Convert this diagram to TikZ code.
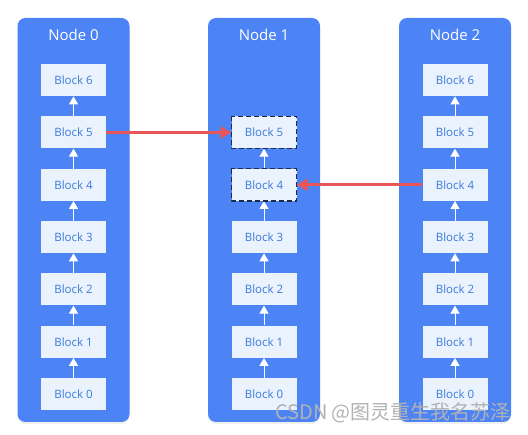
\documentclass[tikz,border=0pt]{standalone}
\usepackage{fontspec}
\setmainfont{Open Sans}
\newfontfamily\cjkfont{Noto Sans CJK SC}
\usetikzlibrary{arrows.meta,shadows}
\definecolor{panelblue}{HTML}{4D84F5}
\definecolor{blockfill}{HTML}{EAF2FE}
\definecolor{blocktext}{HTML}{3A7AD8}
\definecolor{linkred}{HTML}{E8565A}
\definecolor{dashnavy}{HTML}{1E2B45}
\begin{document}
\begin{tikzpicture}[x=1pt,y=-1pt,
    panel/.style={fill=panelblue, rounded corners=8pt, minimum width=112pt,
      minimum height=404pt, inner sep=0pt,
      drop shadow={opacity=0.12, shadow xshift=0pt, shadow yshift=-2pt}},
    title/.style={text=white, font=\fontsize{15}{18}\selectfont},
    blk/.style={fill=blockfill, text=blocktext, minimum width=65pt,
      minimum height=32pt, inner sep=0pt, font=\fontsize{11.5}{14}\selectfont},
    copied/.style={draw=dashnavy, line width=1.4pt, dash pattern=on 5pt off 3pt},
    chain/.style={white, line width=1pt, -{Triangle[width=9pt,length=8pt]}},
    link/.style={linkred, line width=2.8pt, -{Triangle[width=12pt,length=11pt]}}]
    \useasboundingbox (0,0) rectangle (528,435);

    % three nodes, each with its chain of blocks
    \foreach \c/\x/\n in {0/73.5/6, 1/264/5, 2/455/6}{
      \node[panel] (node\c) at (\x,220) {};
      \node[title] (title\c) at (\x,35) {Node \c};
      \foreach \j in {0,...,\n}
        \node[blk] (b\c-\j) at (\x,{394-52.3*\j}) {Block \j};
      \foreach \j in {1,...,\n}{
        \pgfmathtruncatemacro\i{\j-1}
        \draw[chain] (b\c-\i) -- (b\c-\j);
      }
    }

    % blocks fetched from the other nodes
    \draw[copied] (b1-5.north west) rectangle (b1-5.south east);
    \draw[copied] (b1-4.north west) rectangle (b1-4.south east);
    \draw[link] (b0-5.east) -- (b1-5.west);
    \draw[link] (b2-4.west) -- (b1-4.east);

    \node[text=black!30, font=\cjkfont\fontsize{20}{24}\selectfont] (mark)
      at (393,413) {CSDN @图灵重生我名苏泽};
  \end{tikzpicture}
\end{document}
